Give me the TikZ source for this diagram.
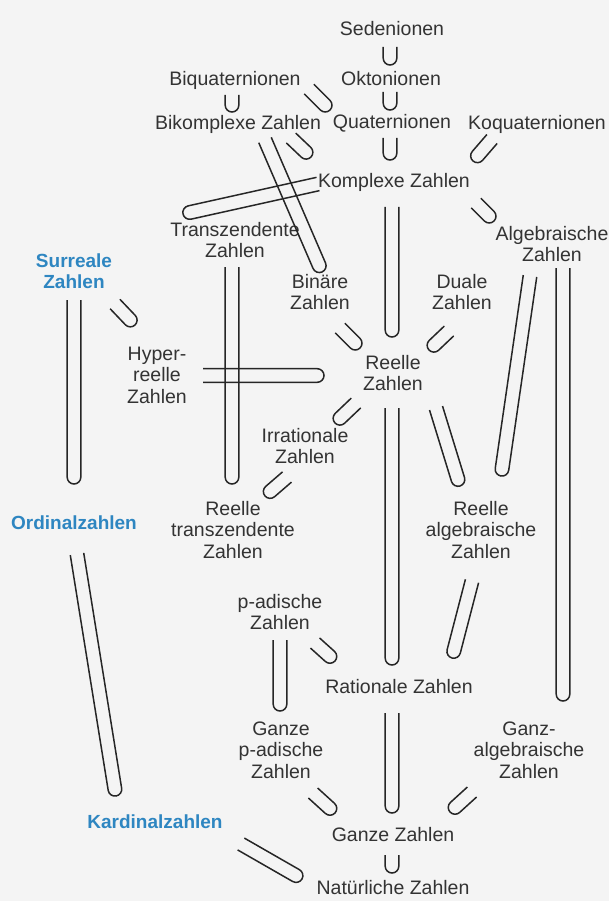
\documentclass[tikz,border=0pt]{standalone}
\usepackage{fontspec}
\setmainfont{Liberation Sans}
\usetikzlibrary{calc}
\usepackage{xcolor}
\definecolor{txtgray}{HTML}{333333}
\definecolor{linkblue}{HTML}{2E86C1}
\definecolor{bggray}{HTML}{F4F4F4}

% inclusion sign: open end at #1, closed tip at #2
\newcommand{\inclgap}{6.8pt}
\newcommand{\incl}[2]{%
  \coordinate (inclA) at #1;
  \coordinate (inclB) at #2;
  \draw[incl] let \p1=($(inclB)-(inclA)$), \n1={atan2(\y1,\x1)}, \n2={veclen(\x1,\y1)} in
    ($(inclA)+(\n1+90:\inclgap)$) -- ++(\n1:{\n2-\inclgap})
    arc[start angle=\n1+90, end angle=\n1-90, radius=\inclgap] -- ++(\n1+180:{\n2-\inclgap});}

\begin{document}
\begin{tikzpicture}[x=1pt, y=-1pt,
  lbl/.style={text=txtgray, align=center, inner sep=0pt, font=\fontsize{19.5}{21.5}\selectfont},
  link/.style={lbl, text=linkblue, font=\bfseries\fontsize{19}{21.5}\selectfont},
  incl/.style={line width=1.5pt, draw=black!85}
]
  \useasboundingbox (0,0) rectangle (609,901);
  \fill[bggray] (0,0) rectangle (609,901);

  % hypercomplex numbers
  \node[lbl] (sed) at (392,29) {Sedenionen};
  \node[lbl] (okt) at (391,79) {Oktonionen};
  \node[lbl] (biq) at (235,80) {Biquaternionen};
  \node[lbl] (bikomp) at (238,124) {Bikomplexe Zahlen};
  \node[lbl] (quat) at (392,123) {Quaternionen};
  \node[lbl] (koq) at (537,124) {Koquaternionen};
  \node[lbl] (komp) at (394,182) {Komplexe Zahlen};

  % middle part
  \node[lbl] (trans) at (235,240) {Transzendente\\Zahlen};
  \node[link] (surr) at (74,271) {Surreale\\Zahlen};
  \node[lbl] (binaer) at (320,292) {Binäre\\Zahlen};
  \node[lbl] (duale) at (462,292) {Duale\\Zahlen};
  \node[lbl] (alg) at (552,244) {Algebraische\\Zahlen};
  \node[lbl] (hyper) at (157,375) {Hyper-\\reelle\\Zahlen};
  \node[lbl] (reelle) at (393,373) {Reelle\\Zahlen};
  \node[lbl] (irr) at (305,446) {Irrationale\\Zahlen};
  \node[lbl] (rtrans) at (233,530) {Reelle\\transzendente\\Zahlen};
  \node[link] (ord) at (74,523) {Ordinalzahlen};
  \node[lbl] (ralg) at (481,530) {Reelle\\algebraische\\Zahlen};

  % lower part
  \node[lbl] (padic) at (280,612) {p-adische\\Zahlen};
  \node[lbl] (rat) at (399,687) {Rationale Zahlen};
  \node[lbl] (gpadic) at (281,750) {Ganze\\p-adische\\Zahlen};
  \node[lbl] (galg) at (529,750) {Ganz-\\algebraische\\Zahlen};
  \node[link] (kard) at (155,822) {Kardinalzahlen};
  \node[lbl] (ganz) at (393,835) {Ganze Zahlen};
  \node[lbl] (nat) at (393,888) {Natürliche Zahlen};

  % inclusions, top
  \incl{(390,47)}{(390,65)}
  \incl{(390,92)}{(390,110)}
  \incl{(390,138)}{(390,160)}
  \incl{(232,95)}{(232,112)}
  \incl{(309,89)}{(330,110)}
  \incl{(291,138)}{(311,157)}
  \incl{(492,139)}{(473,161)}
  \incl{(476,203)}{(494,221)}
  \incl{(318,184)}{(183,214)}
  \incl{(265,140)}{(322,272)}
  \incl{(392,207)}{(392,337)}

  % inclusions, middle
  \incl{(115,304)}{(135,325)}
  \incl{(74,300)}{(74,484)}
  \incl{(232,267)}{(232,484)}
  \incl{(340,328)}{(360,348)}
  \incl{(449,331)}{(429,350)}
  \incl{(203,375.5)}{(324,375.5)}
  \incl{(530,276)}{(501,476)}
  \incl{(563,268)}{(563,701)}
  \incl{(356,403)}{(335,423)}
  \incl{(392,408)}{(392,665)}
  \incl{(436,408)}{(460,486)}
  \incl{(287,477)}{(265,496)}
  \incl{(77,554)}{(116,796)}

  % inclusions, bottom
  \incl{(280,640)}{(280,711)}
  \incl{(315,643)}{(335,661)}
  \incl{(472,581)}{(452,658)}
  \incl{(392,713)}{(392,813)}
  \incl{(313,793)}{(335,813)}
  \incl{(472,792)}{(450,812)}
  \incl{(241,844)}{(302,879)}
  \incl{(392,855)}{(392,873)}
\end{tikzpicture}
\end{document}
